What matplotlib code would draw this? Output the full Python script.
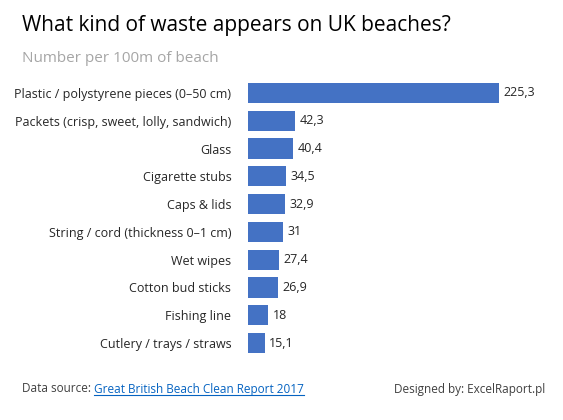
import matplotlib
matplotlib.use('Agg')
import matplotlib.pyplot as plt
from matplotlib.lines import Line2D

categories = ['Plastic / polystyrene pieces (0–50 cm)', 'Packets (crisp, sweet, lolly, sandwich)',
              'Glass', 'Cigarette stubs', 'Caps & lids', 'String / cord (thickness 0–1 cm)',
              'Wet wipes', 'Cotton bud sticks', 'Fishing line', 'Cutlery / trays / straws']
values = [225.3, 42.3, 40.4, 34.5, 32.9, 31, 27.4, 26.9, 18, 15.1]

plt.rcParams['font.family'] = ['Open Sans', 'DejaVu Sans']

fig = plt.figure(figsize=(5.63, 4.2), dpi=100)
ax = fig.add_axes([248 / 563, 1 - 357 / 420, 0.5, (357 - 79) / 420])

y = list(range(len(categories)))
ax.barh(y, values, height=0.72, color='#4472C4')
ax.set_ylim(len(categories) - 0.5, -0.5)
ax.set_xlim(0, 225.3 * 1.12)
ax.set_yticks(y)
ax.set_yticklabels(categories, fontsize=9, color='#262626')
ax.tick_params(axis='y', length=0, pad=12)
ax.set_xticks([])
for s in ax.spines.values():
    s.set_visible(False)

for yi, v in zip(y, values):
    lbl = f'{v:g}'.replace('.', ',')
    ax.text(v + 4, yi, lbl, va='center', ha='left', fontsize=9, color='#262626')

fig.text(22 / 563, 1 - 25 / 420, 'What kind of waste appears on UK beaches?',
         fontsize=15, va='center', color='#000000')
fig.text(22 / 563, 1 - 58 / 420, 'Number per 100m of beach',
         fontsize=11, va='center', color='#A6A6A6')

t1 = fig.text(22 / 563, 1 - 389 / 420, 'Data source: ', fontsize=8.5, va='center', color='#404040')
fig.canvas.draw()
r = fig.canvas.get_renderer()
bb = t1.get_window_extent(r)
t2 = fig.text(bb.x1 / 563, 1 - 389 / 420, 'Great British Beach Clean Report 2017',
              fontsize=8.5, va='center', color='#0563C1')
bb2 = t2.get_window_extent(r)
uy = (bb2.y0 + 1) / 420
fig.add_artist(Line2D([bb2.x0 / 563, bb2.x1 / 563], [uy, uy], color='#0563C1', lw=0.8))
fig.text(545 / 563, 1 - 389 / 420, 'Designed by: ExcelRaport.pl', fontsize=8.5,
         va='center', ha='right', color='#404040')

fig.savefig('out.png', dpi=100)
